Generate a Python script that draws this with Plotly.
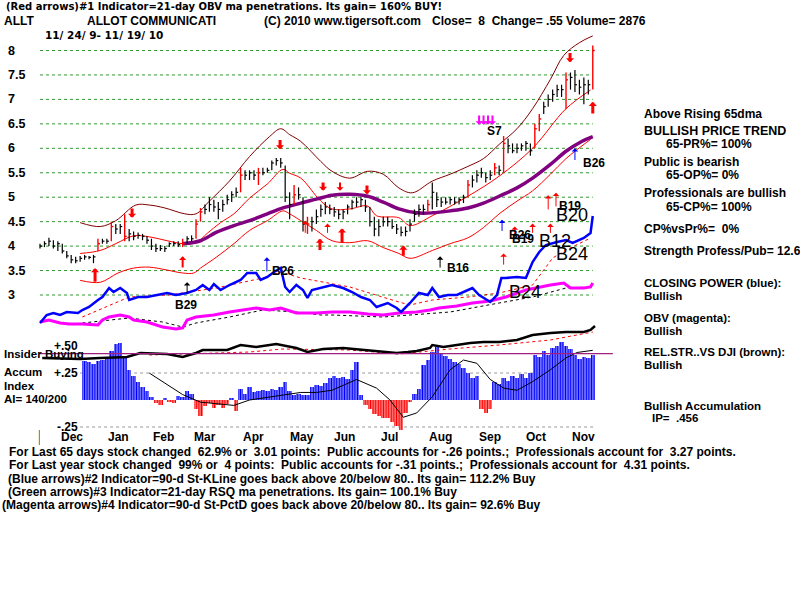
import plotly.graph_objects as go

# ---------------- data ----------------
bar_days = list(range(0, 250, 2))  # trading-session index (every 2nd session)
bar_high = [4.05,4.10,4.17,4.12,4.10,4.05,3.90,3.82,3.78,3.80,3.82,3.80,3.82,4.15,4.15,4.15,4.50,4.45,4.45,4.65,
            4.35,4.30,4.28,4.25,4.20,4.15,4.05,4.02,4.00,4.08,4.10,4.10,4.15,4.20,4.22,4.55,4.78,4.85,5.00,4.95,
            4.90,4.95,5.05,5.12,5.20,5.60,5.55,5.55,5.55,5.60,5.60,5.60,5.75,5.80,5.80,5.65,5.10,5.25,5.20,5.00,
            4.60,4.60,4.75,4.85,4.90,4.85,4.80,4.75,4.75,4.85,4.95,5.00,5.00,4.95,4.80,4.60,4.55,4.60,4.60,4.55,
            4.45,4.40,4.40,4.55,4.75,4.85,4.85,4.95,5.30,5.10,5.00,5.00,5.00,5.00,5.00,5.05,5.35,5.45,5.55,5.60,
            5.50,5.55,5.70,5.65,6.25,6.20,6.10,6.10,6.10,6.15,6.10,6.50,6.70,6.95,7.10,7.20,7.30,7.30,7.55,7.55,
            7.60,7.40,7.45,7.40,8.10]
bar_low = [3.95,3.98,4.00,3.95,3.90,3.85,3.75,3.65,3.65,3.68,3.72,3.73,3.65,3.90,4.05,4.05,4.10,4.25,4.25,4.10,
           4.10,4.12,4.15,4.12,4.05,3.92,3.88,3.90,3.88,3.98,4.00,3.98,3.98,4.05,4.10,4.15,4.50,4.65,4.70,4.70,
           4.55,4.70,4.85,4.90,5.00,5.10,5.35,5.35,5.35,5.25,5.45,5.50,5.55,5.65,5.60,4.90,4.55,4.85,4.95,4.30,
           4.25,4.30,4.45,4.60,4.65,4.65,4.60,4.55,4.55,4.65,4.75,4.80,4.80,4.70,4.40,4.20,4.20,4.40,4.40,4.35,
           4.25,4.20,4.20,4.30,4.50,4.60,4.65,4.70,4.75,4.80,4.80,4.85,4.85,4.85,4.85,4.88,5.00,5.20,5.30,5.40,
           5.30,5.35,5.45,5.45,5.50,5.90,5.90,5.90,5.95,5.95,5.85,6.00,6.35,6.70,6.85,6.95,7.05,7.05,6.80,7.20,
           7.15,7.10,6.90,7.10,7.20]
bar_close = [4.00,4.05,4.10,4.00,4.05,3.90,3.80,3.72,3.70,3.75,3.78,3.77,3.78,4.05,4.10,4.10,4.40,4.35,4.40,4.20,
             4.25,4.20,4.22,4.20,4.12,4.00,3.95,3.95,3.95,4.05,4.05,4.03,4.05,4.15,4.15,4.45,4.70,4.75,4.85,4.80,
             4.75,4.85,4.95,5.05,5.10,5.45,5.45,5.50,5.45,5.50,5.50,5.55,5.70,5.75,5.70,5.00,4.85,5.05,5.05,4.45,
             4.45,4.50,4.60,4.75,4.80,4.75,4.70,4.65,4.70,4.80,4.90,4.90,4.95,4.80,4.50,4.35,4.40,4.50,4.50,4.40,
             4.35,4.28,4.30,4.45,4.65,4.75,4.75,4.85,5.10,4.95,4.90,4.90,4.95,4.90,4.95,5.00,5.25,5.35,5.45,5.50,
             5.40,5.45,5.60,5.55,6.10,6.05,5.95,6.00,6.05,6.10,5.95,6.40,6.60,6.85,7.00,7.10,7.20,7.20,7.40,7.45,
             7.30,7.25,7.30,7.30,8.00]
red_bar_idx = [13, 16, 19, 32, 35, 36, 45, 49, 57, 60, 87, 96, 102, 104, 111, 112, 118, 124]

upper_days = [18,27,34,43,49,56,65,70,76,85,94,103,108,112,117,126,131,139,147,154,161,167,176,184,192,199,206,214,221,229,235,242,248]
upper_band = [4.48,4.40,4.52,4.84,4.84,4.78,4.66,4.66,4.92,5.33,5.83,6.24,6.40,6.28,6.14,5.73,5.53,5.39,5.53,5.47,5.19,5.09,5.33,5.47,5.63,5.79,6.08,6.40,6.81,7.41,7.90,8.16,8.30]
middle_days = [18,27,34,42,49,57,64,70,75,81,87,94,102,109,112,117,126,131,139,147,151,161,166,176,192,206,221,236,247]
middle_band = [3.85,3.91,4.05,4.21,4.19,4.11,4.05,4.07,4.26,4.48,4.66,4.98,5.27,5.57,5.49,5.39,4.92,4.76,4.76,4.82,4.62,4.58,4.42,4.62,5.02,5.43,6.00,6.81,7.19]
lower_days = [18,27,35,42,49,57,64,69,72,79,87,94,102,109,112,117,124,131,139,147,154,161,166,176,184,192,199,206,214,221,229,236,244,247]
lower_band = [3.30,3.26,3.45,3.55,3.57,3.51,3.45,3.45,3.55,3.77,4.05,4.32,4.52,4.72,4.66,4.52,4.32,4.11,4.07,4.11,3.97,3.85,3.75,3.91,4.05,4.17,4.38,4.66,4.92,5.13,5.47,5.79,6.08,6.18]
ma65_days = [64,72,79,87,94,102,109,117,124,131,139,147,154,161,169,176,184,192,199,206,214,221,229,236,243,248]
ma65 = [4.05,4.11,4.28,4.42,4.52,4.66,4.78,4.88,4.96,5.04,5.06,5.02,4.90,4.76,4.68,4.68,4.72,4.78,4.88,5.02,5.19,5.39,5.67,5.94,6.14,6.24]

# Closing power (blue) and its MA, OBV (magenta) and its MA, relative strength (black) and MA: relative units
cp_days = [0,3,6,9,12,17,19,22,26,28,31,33,36,39,40,44,48,52,57,61,66,70,73,76,78,81,85,90,93,97,99,102,105,108,110,112,115,118,120,122,
           127,131,136,140,144,148,151,156,160,162,166,170,174,176,179,183,187,192,194,197,202,205,207,209,214,218,221,224,227,232,236,239,244,247,248]
cp = [7,15,17,15,18,17,20,23,30,33,42,38,42,37,30,33,33,35,37,35,37,40,45,40,46,40,45,50,57,57,50,53,58,62,43,38,45,40,32,40,
      43,45,42,38,33,30,23,27,22,18,27,37,35,42,33,35,35,40,42,35,28,35,52,52,53,52,68,78,85,88,90,87,92,97,114]
cp_ma_days = [19,40,58,79,100,108,117,139,161,166,176,192,206,221,230,236,247]
cp_ma = [13,33,35,42,52,58,52,43,28,25,30,33,37,45,72,80,92]
obv_days = [0,4,9,13,19,26,28,31,36,40,42,48,55,61,64,66,70,78,85,91,97,103,108,115,124,131,139,147,154,161,169,175,179,187,194,202,209,218,224,229,235,238,244,247,248]
obv = [8,10,7,6,6,5,10,13,15,13,10,8,3,1,2,10,13,15,18,20,22,20,22,17,17,18,18,16,15,17,18,20,22,24,27,29,33,40,43,45,47,42,42,43,47]
obv_ma_days = [19,40,55,64,70,85,100,115,126,131,154,166,184,206,221,236,247]
obv_ma = [7,12,8,3,7,13,20,18,15,15,13,15,18,27,33,42,43]
rs_days = [1,18,27,39,45,57,64,70,73,84,90,97,106,115,120,127,136,145,154,160,165,169,175,176,181,187,193,199,206,214,221,229,236,244,247,249]
rs = [-28,-29,-28,-27,-23,-24,-27,-23,-20,-20,-15,-17,-14,-18,-22,-19,-18,-20,-22,-23,-22,-21,-18,-15,-17,-15,-13,-12,-12,-10,-5,-3,-2,-2,0,4]
rs_ma_days = [49,94,109,139,161,184,206,229,248]
rs_ma = [-25,-22,-19,-20,-24,-19,-15,-10,-2]

# Accumulation index, every 2nd session from day 20
ai_days = bar_days[10:]
ai = [0.36,0.35,0.33,0.36,0.37,0.38,0.45,0.52,0.53,0.40,
      0.28,0.22,0.17,0.12,0.08,0.03,-0.03,-0.05,0.02,-0.02,
      -0.03,0.04,0.03,0.08,0.06,-0.08,-0.15,-0.06,-0.03,-0.07,
      -0.05,-0.07,-0.04,0.01,-0.10,0.10,0.06,0.12,0.07,0.08,
      0.09,0.08,0.10,0.09,0.12,0.17,0.08,0.05,0.06,0.05,
      0.05,0.12,0.14,0.13,0.16,0.20,0.22,0.20,0.21,0.19,
      0.28,0.35,0.05,-0.05,-0.08,-0.13,-0.15,-0.17,-0.17,-0.20,
      -0.24,-0.28,-0.12,-0.02,0.06,0.10,0.32,0.37,0.44,0.49,
      0.43,0.41,0.38,0.35,0.33,0.30,0.25,0.20,0.22,-0.08,
      -0.12,-0.08,0.17,0.15,0.20,0.18,0.22,0.20,0.24,0.20,
      0.25,0.42,0.40,0.45,0.42,0.48,0.50,0.54,0.50,0.47,
      0.42,0.38,0.40,0.39,0.42]
ai_ma_days = [49,57,64,72,87,94,109,117,124,131,142,151,157,163,169,176,184,190,196,202,208,214,221,229,236,241,248]
ai_ma = [0.25,0.14,0.05,-0.02,-0.05,0.0,0.05,0.07,0.07,0.09,0.19,0.11,0.0,-0.16,-0.12,0.03,0.28,0.37,0.34,0.19,0.11,0.09,0.17,0.28,0.39,0.44,0.46]
ip_level = 0.43

price_ticks = [8, 7.5, 7, 6.5, 6, 5.5, 5, 4.5, 4, 3.5, 3]
price_tick_text = ['8', '7.5', '7', '6.5', '6', '5.5', '5', '4.5', '4', '3.5', '3']
ai_ticks = [0.5, 0.25, -0.25]
ai_tick_text = ['+.50', '+.25', '-.25']
months = ['Dec', 'Jan', 'Feb', 'Mar', 'Apr', 'May', 'Jun', 'Jul', 'Aug', 'Sep', 'Oct', 'Nov']
month_days = [14.4, 35, 55.2, 74, 95.6, 117.5, 136.8, 157, 179.5, 202, 222.5, 244]

# signal arrows: (day, tail, head, color, width)
arrows = [
    (24.7, 3.24, 3.55, 'red', 3), (125.6, 3.89, 4.15, 'red', 3), (135.5, 4.05, 4.36, 'red', 3),
    (163, 3.77, 4.01, 'red', 3), (248, 6.68, 6.95, 'red', 3), (64, 3.53, 3.79, 'red', 2),
    (119, 4.24, 4.52, 'red', 1), (129, 4.24, 4.46, 'red', 1), (208, 3.59, 3.85, 'red', 1),
    (213, 4.15, 4.40, 'red', 1), (221, 4.24, 4.46, 'red', 1), (229, 4.24, 4.46, 'red', 1),
    (228, 4.72, 5.04, 'red', 1), (231.5, 4.78, 5.09, 'red', 1),
    (41.3, 4.80, 4.58, 'red', 3), (107.7, 6.20, 5.98, 'red', 3), (127, 5.33, 5.13, 'red', 3),
    (146.7, 5.27, 5.06, 'red', 3), (134.6, 5.33, 5.13, 'red', 2), (237.8, 7.98, 7.76, 'red', 3),
    (101.8, 3.45, 3.77, 'blue', 1), (207.3, 4.28, 4.54, 'blue', 1), (240, 5.73, 6.0, 'blue', 1),
    (66, 3.00, 3.26, 'black', 1), (179.5, 3.53, 3.79, 'black', 1),
    (197, 6.70, 6.48, '#ff00ff', 2), (199, 6.70, 6.48, '#ff00ff', 2),
    (201, 6.70, 6.48, '#ff00ff', 2), (203, 6.70, 6.48, '#ff00ff', 2),
]
# signal labels: (text, day, price, size, bold)
signal_labels = [
    ('B29', 65.5, 2.80, 12, True), ('B26', 109, 3.49, 12, True), ('B16', 187.5, 3.55, 12, True),
    ('S7', 204, 6.36, 12, True), ('B26', 248.5, 5.69, 12, True), ('B19', 238, 4.82, 12, True),
    ('B20', 238.7, 4.64, 18, False), ('B26', 215.3, 4.23, 12, True), ('B19', 216.7, 4.15, 12, True),
    ('B12', 231, 4.11, 18, False), ('B24', 238.7, 3.83, 18, False), ('B24', 217.6, 3.06, 18, False),
]

# (text, x px, y px, size, family)
SANS = 'Liberation Sans, Arial, sans-serif'
WIDE = 'DejaVu Sans, Verdana, sans-serif'
header = [
    ('(Red arrows)#1 Indicator=21-day OBV ma penetrations. Its gain= 160% BUY!', 4, 6, 10, WIDE),
    ('ALLT', 2, 21, 12, SANS), ('ALLOT COMMUNICATI', 85, 21, 12, SANS),
    ('(C) 2010 www.tigersoft.com', 262, 21, 12, SANS),
    ('Close=  8  Change= .55 Volume= 2876', 430, 21, 12, SANS),
    ('11/ 24/ 9- 11/ 19/ 10', 43, 35, 10.5, WIDE),
]
right_text = [
    ('Above Rising 65dma', 642, 114, 12), ('BULLISH PRICE TREND', 642, 131, 12.5),
    ('65-PR%= 100%', 664, 144, 12), ('Public is bearish', 642, 162, 12),
    ('65-OP%= 0%', 664, 175, 12), ('Professionals are bullish', 642, 193, 12),
    ('65-CP%= 100%', 664, 207, 12), ('CP%vsPr%=  0%', 642, 229, 12),
    ('Strength Profess/Pub= 12.6', 642, 251, 12), ('CLOSING POWER (blue):', 642, 283, 11.5),
    ('Bullish', 642, 296, 11.5), ('OBV (magenta):', 642, 318, 11.5), ('Bullish', 642, 331, 11.5),
    ('REL.STR..VS DJI (brown):', 642, 352, 11.5), ('Bullish', 642, 365, 11.5),
    ('Bullish Accumulation', 642, 406, 11.5), ('IP=  .456', 650, 418, 11.5),
]
left_text = [('Insider Buying', 2, 354), ('Accum', 2, 372), ('Index', 2, 386), ('AI= 140/200', 2, 399)]
bottom_text = [
    ('For Last 65 days stock changed  62.9% or  3.01 points:  Public accounts for -.26 points.;  Professionals account for  3.27 points.', 7, 452),
    ('For Last year stock changed  99% or  4 points:  Public accounts for -.31 points.;  Professionals account for  4.31 points.', 7, 465),
    ('(Blue arrows)#2 Indicator=90-d St-KLine goes back above 20/below 80.. Its gain= 112.2% Buy', 6, 479),
    ('(Green arrows)#3 Indicator=21-day RSQ ma penetrations. Its gain= 100.1% Buy', 6, 492),
    ('(Magenta arrows)#4 Indicator=90-d St-PctD goes back above 20/below 80.. Its gain= 92.6% Buy', 0, 505),
]

# ---------------- figure ----------------
W, H = 800, 600
fig = go.Figure()


def nb(s):
    return s.replace('  ', '\u00a0 ')


def bar_xy(idx):
    xs, ys = [], []
    for i in idx:
        d = bar_days[i]
        xs += [d, d, None, d, d + 0.9, None]
        ys += [bar_low[i], bar_high[i], None, bar_close[i], bar_close[i], None]
    return xs, ys


# price gridlines
for p in price_ticks:
    fig.add_shape(type='line', xref='x', yref='y', x0=0, x1=248, y0=p, y1=p,
                  line=dict(color='#2f9a2f', width=1, dash='dot'), layer='below')
# AI gridlines
for a in [0.25, -0.25]:
    fig.add_shape(type='line', xref='x', yref='y2', x0=18, x1=249, y0=a, y1=a,
                  line=dict(color='#999999', width=1, dash='dot'), layer='below')
fig.add_shape(type='line', xref='x', yref='y2', x0=0, x1=257, y0=ip_level, y1=ip_level,
              line=dict(color='#a0207f', width=1.2))
fig.add_shape(type='line', xref='x', yref='paper', x0=-0.3, x1=-0.3, y0=1 - 445 / H, y1=1 - 430 / H,
              line=dict(color='#808000', width=1))

# AI histogram
pos = [v if v >= 0 else None for v in ai]
neg = [v if v < 0 else None for v in ai]
fig.add_trace(go.Bar(x=ai_days, y=pos, width=2, yaxis='y2',
                     marker=dict(color='white', line=dict(width=0),
                                 pattern=dict(shape='|', fgcolor='#0000ff', bgcolor='white', size=2.6,
                                              solidity=0.72, fgopacity=1))))
fig.add_trace(go.Bar(x=ai_days, y=neg, width=2, yaxis='y2',
                     marker=dict(color='white', line=dict(width=0),
                                 pattern=dict(shape='|', fgcolor='#ff0000', bgcolor='white', size=2.6,
                                              solidity=0.72, fgopacity=1))))
fig.add_trace(go.Scatter(x=ai_ma_days, y=ai_ma, yaxis='y2', mode='lines', line=dict(color='black', width=1)))

# indicator lines
fig.add_trace(go.Scatter(x=rs_ma_days, y=rs_ma, yaxis='y3', mode='lines', line=dict(color='red', width=1, dash='dot')))
fig.add_trace(go.Scatter(x=rs_days, y=rs, yaxis='y3', mode='lines', line=dict(color='black', width=2.5)))
fig.add_trace(go.Scatter(x=obv_ma_days, y=obv_ma, yaxis='y3', mode='lines', line=dict(color='black', width=1, dash='dot')))
fig.add_trace(go.Scatter(x=obv_days, y=obv, yaxis='y3', mode='lines', line=dict(color='#ff00ff', width=3)))
fig.add_trace(go.Scatter(x=cp_ma_days, y=cp_ma, yaxis='y3', mode='lines', line=dict(color='red', width=1, dash='dot')))
fig.add_trace(go.Scatter(x=cp_days, y=cp, yaxis='y3', mode='lines', line=dict(color='#0000ff', width=2.5)))

# bands
fig.add_trace(go.Scatter(x=upper_days, y=upper_band, mode='lines', line=dict(color='#800000', width=1, shape='spline')))
fig.add_trace(go.Scatter(x=middle_days, y=middle_band, mode='lines', line=dict(color='red', width=1, shape='spline')))
fig.add_trace(go.Scatter(x=lower_days, y=lower_band, mode='lines', line=dict(color='red', width=1, shape='spline')))
fig.add_trace(go.Scatter(x=ma65_days, y=ma65, mode='lines', line=dict(color='#800080', width=3.5, shape='spline')))

# price bars
black_idx = [i for i in range(len(bar_days)) if i not in red_bar_idx]
bx, by = bar_xy(black_idx)
fig.add_trace(go.Scatter(x=bx, y=by, mode='lines', line=dict(color='black', width=1.2)))
rx, ry = bar_xy(red_bar_idx)
fig.add_trace(go.Scatter(x=rx, y=ry, mode='lines', line=dict(color='red', width=1.4)))

ann = []
for d, tail, head, c, w in arrows:
    size = {3: 0.45, 2: 0.6}.get(w, 1.1)
    ann.append(dict(x=d, y=head, ax=d, ay=tail, xref='x', yref='y', axref='x', ayref='y',
                    text='', showarrow=True, arrowhead=1, arrowsize=size,
                    arrowwidth=w, arrowcolor=c, standoff=0, startstandoff=0))
for t, d, p, s, b in signal_labels:
    ann.append(dict(x=d, y=p, xref='x', yref='y', text=('<b>%s</b>' % t) if b else t, showarrow=False,
                    font=dict(family=SANS, size=s, color='black'), xanchor='center', yanchor='middle'))


def ptxt(s, px, py, size=11, family=SANS, anchor='left'):
    return dict(x=px / W, y=1 - py / H, xref='paper', yref='paper', text='<b>%s</b>' % nb(s), showarrow=False,
                font=dict(family=family, size=size, color='black'), xanchor=anchor, yanchor='middle')


for s, px, py, sz, fam in header:
    ann.append(ptxt(s, px, py, sz, fam))
for s, px, py, sz in right_text:
    ann.append(ptxt(s, px, py, sz))
for s, px, py in left_text:
    ann.append(ptxt(s, px, py, 11.5))
for s, px, py in bottom_text:
    ann.append(ptxt(s, px, py, 12))
for t, p in zip(price_tick_text, price_ticks):
    ann.append(dict(x=6 / W, y=p, xref='paper', yref='y', text='<b>%s</b>' % t, showarrow=False,
                    font=dict(family=SANS, size=12.5, color='black'), xanchor='left', yanchor='middle'))
for t, a in zip(ai_tick_text, ai_ticks):
    ann.append(dict(x=80 / W, y=a, xref='paper', yref='y2', text='<b>%s</b>' % t, showarrow=False,
                    font=dict(family=SANS, size=12, color='black'), xanchor='right', yanchor='middle'))
for m, d in zip(months, month_days):
    ann.append(dict(x=d, y=1 - 437 / H, xref='x', yref='paper', text='<b>%s</b>' % m, showarrow=False,
                    font=dict(family=SANS, size=12, color='black'), xanchor='center', yanchor='middle'))

# axis ranges chosen so the panels sit where the reference places them
px_per_day = 555 / 249
x0 = -40 / px_per_day
x1 = (W - 40) / px_per_day
p_per_px = 1 / 48.9
ai_per_px = 1 / 108

fig.update_layout(
    width=W, height=H, margin=dict(l=0, r=0, t=0, b=0),
    paper_bgcolor='white', plot_bgcolor='white', showlegend=False,
    barmode='overlay', bargap=0,
    xaxis=dict(range=[x0, x1], visible=False, domain=[0, 1]),
    yaxis=dict(range=[3 - (H - 295) * p_per_px, 3 + 295 * p_per_px], visible=False, domain=[0, 1]),
    yaxis2=dict(range=[-(H - 400) * ai_per_px, 400 * ai_per_px], visible=False, overlaying='y'),
    yaxis3=dict(range=[330 - H, 330], visible=False, overlaying='y'),
    annotations=ann,
)

fig.write_html('out.html')
